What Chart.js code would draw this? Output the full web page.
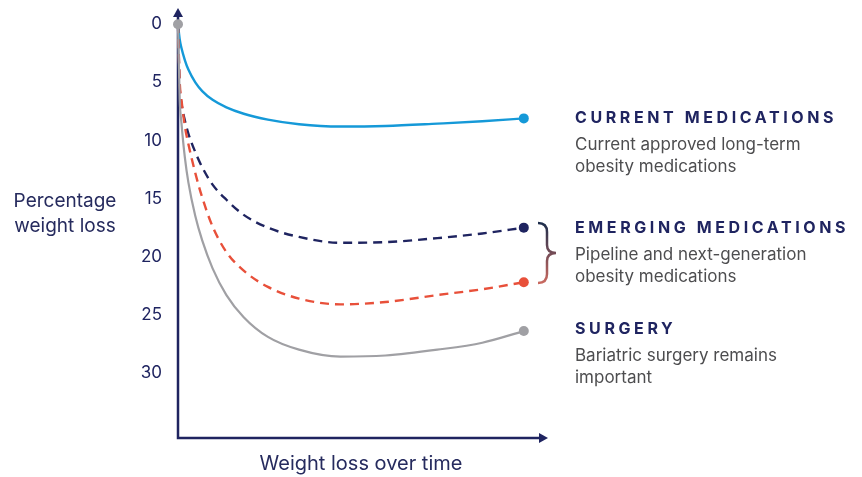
<!DOCTYPE html>
<html lang="en">
<head>
  <meta charset="UTF-8" />
  <title>Weight loss over time</title>
  <script src="https://cdn.jsdelivr.net/npm/chart.js"></script>
  <style>
    * { box-sizing: border-box; }
    body { margin: 0; background: #fff; }
    .wrap { position: relative; width: 862px; height: 477px; }
  </style>
</head>
<body>
  <div class="wrap"><canvas id="lossChart"></canvas></div>

  <script>
    // time axis (arbitrary units 0..100) and % weight loss per series
    const timeSteps    = [0, 0.5, 1, 2, 3, 5, 7, 10, 14, 19, 26, 35, 47, 60, 75, 88, 100];
    const currentMeds  = [0, 1.3, 2.05, 3.1, 3.9, 5.0, 5.75, 6.5, 7.15, 7.7, 8.2, 8.6, 8.8, 8.75, 8.55, 8.35, 8.1];
    const emergingMeds = [0, 5.5, 6.8, 8.3, 9.4, 11.0, 12.3, 13.8, 15.1, 16.4, 17.5, 18.3, 18.8, 18.75, 18.4, 18.0, 17.5];
    const pipelineMeds = [0, 5.0, 6.5, 8.8, 10.3, 12.8, 14.9, 17.4, 19.6, 21.2, 22.6, 23.6, 24.1, 23.9, 23.3, 22.8, 22.2];
    const surgery      = [0, 6.5, 8.5, 11.5, 13.6, 16.5, 18.6, 21.0, 23.3, 25.2, 26.9, 28.0, 28.6, 28.5, 28.0, 27.4, 26.4];
    const yTicks = [0, 5, 10, 15, 20, 25, 30];

    const NAVY = '#1f2460';
    const FONT = 'Inter, "Noto Sans", sans-serif';

    const labels = [
      { head: 'CURRENT MEDICATIONS', lines: ['Current approved long-term', 'obesity medications'], y: 123 },
      { head: 'EMERGING MEDICATIONS', lines: ['Pipeline and next-generation', 'obesity medications'], y: 233 },
      { head: 'SURGERY', lines: ['Bariatric surgery remains', 'important'], y: 334 }
    ];

    const toPoints = vals => vals.map((v, i) => ({ x: timeSteps[i], y: v }));
    const endDot = extra => ctx =>
      (ctx.dataIndex === timeSteps.length - 1 || (extra && ctx.dataIndex === 0)) ? 5 : 0;

    const axesPlugin = {
      id: 'axes',
      beforeDatasetsDraw(chart) {
        const { ctx, chartArea: a } = chart;
        ctx.save();
        ctx.strokeStyle = NAVY;
        ctx.fillStyle = NAVY;
        ctx.lineWidth = 2.5;
        ctx.beginPath();
        ctx.moveTo(a.left, a.top + 4);
        ctx.lineTo(a.left, a.bottom);
        ctx.lineTo(a.right - 4, a.bottom);
        ctx.stroke();
        // arrow heads
        ctx.beginPath();
        ctx.moveTo(a.left, a.top);
        ctx.lineTo(a.left - 5, a.top + 9);
        ctx.lineTo(a.left + 5, a.top + 9);
        ctx.closePath();
        ctx.fill();
        ctx.beginPath();
        ctx.moveTo(a.right, a.bottom);
        ctx.lineTo(a.right - 9, a.bottom - 5);
        ctx.lineTo(a.right - 9, a.bottom + 5);
        ctx.closePath();
        ctx.fill();
        ctx.restore();
      },
      afterDraw(chart) {
        const { ctx } = chart;
        ctx.save();
        // axis titles
        ctx.fillStyle = '#262b5e';
        ctx.textAlign = 'center';
        ctx.font = '19px ' + FONT;
        ctx.fillText('Percentage', 65, 207);
        ctx.fillText('weight loss', 65, 232);
        ctx.font = '20px ' + FONT;
        ctx.fillText('Weight loss over time', 361, 470);

        // series annotations
        ctx.textAlign = 'left';
        labels.forEach(l => {
          ctx.fillStyle = NAVY;
          ctx.font = 'bold 16px ' + FONT;
          ctx.letterSpacing = '3.6px';
          ctx.fillText(l.head, 575, l.y);
          ctx.letterSpacing = '0px';
          ctx.fillStyle = '#4d4d4f';
          ctx.font = '17px ' + FONT;
          l.lines.forEach((t, i) => ctx.fillText(t, 575, l.y + 27 + i * 21.5));
        });

        // brace joining the two emerging curves
        const g = ctx.createLinearGradient(0, 222, 0, 284);
        g.addColorStop(0, '#1b2d4c');
        g.addColorStop(1, '#cc6a60');
        ctx.strokeStyle = g;
        ctx.lineWidth = 2.5;
        ctx.beginPath();
        ctx.moveTo(538, 223);
        ctx.quadraticCurveTo(547, 223, 547, 232);
        ctx.lineTo(547, 245);
        ctx.quadraticCurveTo(547, 253, 556, 253);
        ctx.quadraticCurveTo(547, 253, 547, 261);
        ctx.lineTo(547, 274);
        ctx.quadraticCurveTo(547, 283, 538, 283);
        ctx.stroke();
        ctx.restore();
      }
    };

    const line = (data, color, dash, width, extraDot) => ({
      data: toPoints(data),
      borderColor: color,
      backgroundColor: color,
      borderWidth: width,
      borderDash: dash,
      pointRadius: endDot(extraDot),
      pointBorderWidth: 0,
      cubicInterpolationMode: 'monotone',
      clip: false
    });

    new Chart(document.getElementById('lossChart'), {
      type: 'line',
      data: {
        datasets: [
          line(surgery, '#a0a0a4', [], 2.2, true),
          line(pipelineMeds, '#e8503a', [9, 6], 2.4),
          line(emergingMeds, '#1f2460', [9, 6], 2.4),
          line(currentMeds, '#1599d8', [], 2.4)
        ]
      },
      options: {
        responsive: true,
        maintainAspectRatio: false,
        animation: false,
        layout: { padding: { top: 8, right: 314, bottom: 39, left: 0 } },
        plugins: { legend: { display: false }, tooltip: { enabled: false } },
        scales: {
          x: { type: 'linear', min: 0, max: 107, display: false },
          y: {
            reverse: true,
            min: -1.4,
            max: 35.6,
            afterFit: s => { s.width = 178; s.paddingTop = 0; s.paddingBottom = 0; },
            afterBuildTicks: s => { s.ticks = yTicks.map(v => ({ value: v })); },
            grid: { display: false, drawTicks: false },
            border: { display: false },
            ticks: { padding: 16, color: NAVY, font: { size: 17, family: FONT } }
          }
        }
      },
      plugins: [axesPlugin]
    });
  </script>
</body>
</html>
